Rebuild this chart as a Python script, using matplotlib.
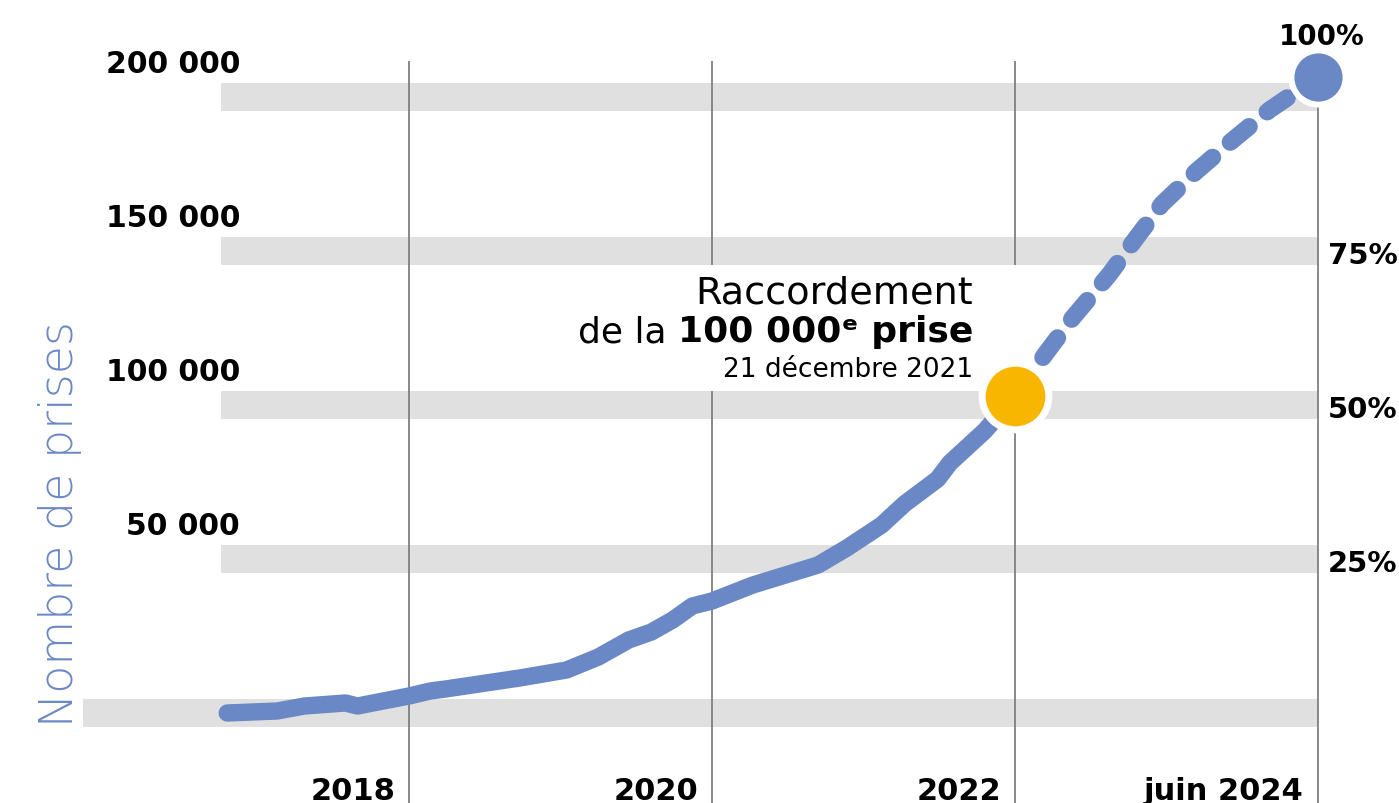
import matplotlib
matplotlib.use("Agg")
import matplotlib.pyplot as plt

# cumulative number of connected sockets
years_real = [2016.80, 2017.13, 2017.31, 2017.58, 2017.66, 2018.00, 2018.14, 2018.24,
              2018.73, 2019.04, 2019.25, 2019.45, 2019.60, 2019.74, 2019.87, 2020.00,
              2020.27, 2020.70, 2020.89, 2021.12, 2021.27, 2021.49, 2021.57, 2021.80,
              2022.00]
prises_real = [0, 650, 2270, 3250, 2270, 5520, 7140, 7790,
               11360, 13960, 18180, 23700, 26300, 30190, 34740, 36360,
               41560, 48050, 53570, 61040, 67860, 75970, 81170, 91560,
               102900]

# projection up to june 2024
years_proj = [2022.00, 2022.21, 2022.38, 2022.62, 2022.80, 2022.97, 2023.20,
              2023.43, 2023.68, 2024.00]
prises_proj = [102900, 117200, 128250, 142200, 154200, 165250, 176000,
               185700, 195800, 206500]

band_levels = [0, 50000, 100000, 150000, 200000]
left_labels = ["", "50 000", "100 000", "150 000", "200 000"]
pct_levels = [50000, 100000, 150000]
pct_labels = ["25%", "50%", "75%"]
year_ticks = [2018, 2020, 2022, 2024]
year_labels = ["2018", "2020", "2022", "juin 2024"]

BLUE = "#6a88c5"
YELLOW = "#f8b600"
GREY = "#e0e0e0"

fig = plt.figure(figsize=(13.99, 8.04), dpi=100)
ax = fig.add_axes([0, 0, 1, 1])
ax.set_xlim(2015.300, 2024.535)
ax.set_ylim(-29221, 231818)
ax.axis("off")

# grey bands
for lvl in band_levels:
    left = 2015.848 if lvl == 0 else 2016.759
    ax.barh(lvl, 2024.0 - left, left=left, height=8770, color=GREY, zorder=1)

# vertical year lines
ax.vlines(year_ticks, -40000, 211700, color="#7f7f7f", lw=1.3, zorder=2)

# white background behind the annotation
ax.fill_between([2019.10, 2022.07], 104385, 145615, color="white", lw=0, zorder=3)

# line
ax.plot(years_real, prises_real, color=BLUE, lw=12.5, solid_capstyle="round",
        solid_joinstyle="round", zorder=4)
ax.plot(years_proj, prises_proj, color=BLUE, lw=12.5, dashes=(1.4, 1.35),
        dash_capstyle="round", zorder=4)

# milestone dots
ax.plot(years_real[-1], prises_real[-1], "o", ms=48, mfc=YELLOW, mec="white",
        mew=5, zorder=5)
ax.plot(years_proj[-1], prises_proj[-1], "o", ms=39, mfc=BLUE, mec="white",
        mew=4.3, zorder=5)

bold = dict(family="DejaVu Sans", fontweight="bold", color="black")

# left labels
for lvl, lab in zip(band_levels, left_labels):
    if lab:
        ax.annotate(lab, xy=(0, lvl), xycoords=("axes fraction", "data"),
                    xytext=(240, 25), textcoords="offset pixels",
                    ha="right", va="baseline", fontsize=21.5, **bold)

# right percentage labels
for lvl, lab in zip(pct_levels, pct_labels):
    ax.annotate(lab, xy=(0, lvl), xycoords=("axes fraction", "data"),
                xytext=(1328, -12), textcoords="offset pixels",
                ha="left", va="baseline", fontsize=21, **bold)
ax.annotate("100%", xy=(years_proj[-1], prises_proj[-1]), xytext=(4, 33),
            textcoords="offset pixels", ha="center", va="baseline",
            fontsize=20, **bold)

# year labels
for yr, lab in zip(year_ticks, year_labels):
    ax.annotate(lab, xy=(yr, 0), xycoords=("data", "axes fraction"),
                xytext=(-14, 4), textcoords="offset pixels",
                ha="right", va="baseline", fontsize=22, **bold)

# milestone annotation
anchor = (years_real[-1], prises_real[-1])
ax.annotate("Raccordement", xy=anchor, xytext=(-42, 94), textcoords="offset pixels",
            ha="right", va="baseline", fontsize=27.5, family="DejaVu Sans")
strong = ax.annotate("100 000ᵉ prise", xy=anchor, xytext=(-42, 55),
                     textcoords="offset pixels", ha="right", va="baseline",
                     fontsize=26, family=["DejaVu Sans"], fontweight="bold")
fig.canvas.draw()
bb = strong.get_window_extent()
x_px, _ = ax.transData.transform(anchor)
ax.annotate("de la ", xy=anchor, xytext=(bb.x0 - x_px, 55),
            textcoords="offset pixels", ha="right", va="baseline", fontsize=26,
            family="DejaVu Sans")
ax.annotate("21 décembre 2021", xy=anchor, xytext=(-42, 20), textcoords="offset pixels",
            ha="right", va="baseline", fontsize=19, family="DejaVu Sans")

# y axis title
fig.text(73 / 1399, 77 / 804, "Nombre de prises", rotation=90, rotation_mode="anchor",
         ha="left", va="baseline", fontsize=33, color=BLUE, family="DejaVu Sans",
         fontweight=200)

fig.savefig("out.png", dpi=100)
